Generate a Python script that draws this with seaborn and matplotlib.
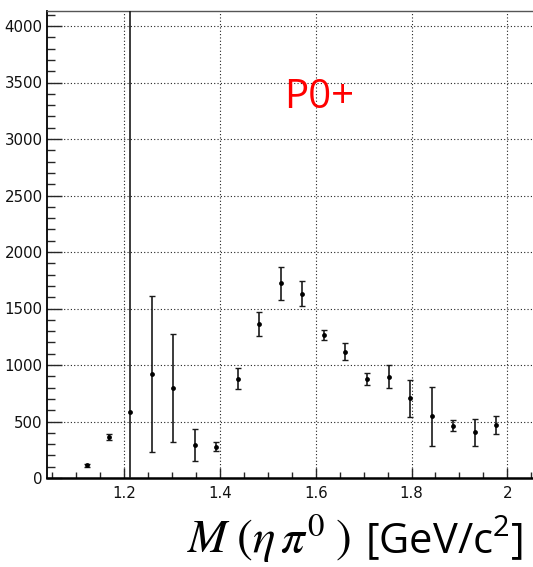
import matplotlib
matplotlib.use("Agg")
import matplotlib.pyplot as plt
import seaborn as sns
import numpy as np
import pandas as pd
from matplotlib.ticker import MultipleLocator

# ---- data ----
mass = [1.122, 1.167, 1.212, 1.257, 1.302, 1.347, 1.392, 1.437, 1.482, 1.527,
        1.572, 1.617, 1.662, 1.707, 1.752, 1.797, 1.842, 1.887, 1.932, 1.977]
counts = [112, 363, 587, 923, 796, 292, 277, 879, 1363, 1723,
          1631, 1265, 1118, 876, 897, 705, 546, 463, 404, 472]
errors = [12, 27, 5000, 692, 481, 140, 40, 93, 107, 146,
          109, 45, 78, 54, 100, 162, 262, 47, 122, 81]
label_text = "P0+"
x_ticks = [1.2, 1.4, 1.6, 1.8, 2.0]
x_tick_labels = ["1.2", "1.4", "1.6", "1.8", "2"]
y_ticks = [0, 500, 1000, 1500, 2000, 2500, 3000, 3500, 4000]

df = pd.DataFrame({"mass": mass, "counts": counts, "err": errors})

sns.set_style("ticks")
plt.rcParams["mathtext.fontset"] = "stix"

W, H = 533, 567
fig = plt.figure(figsize=(W / 100, H / 100), dpi=100)
left_px, right_px, top_px, bottom_px = 46.7, 533, 11, 478
ax = fig.add_axes([left_px / W, 1 - bottom_px / H,
                   (right_px - left_px) / W, (bottom_px - top_px) / H])

ax.errorbar(df["mass"], df["counts"], yerr=df["err"], fmt="none",
            ecolor="#1a1a1a", elinewidth=1.2, capsize=2, capthick=1.0, zorder=3)
sns.scatterplot(data=df, x="mass", y="counts", ax=ax, color="black",
                marker="o", s=12, edgecolor="black", linewidth=0, zorder=4,
                legend=False)

ax.set_xlim(1.2 - (124.3 - 46.7) / 478.75, 2.0 + (533 - 507.3) / 478.75)
ax.set_ylim(0, (bottom_px - top_px) / 56.5 * 500)

ax.set_xticks(x_ticks)
ax.set_xticklabels(x_tick_labels)
ax.set_yticks(y_ticks)
ax.set_yticklabels([str(v) for v in y_ticks])
ax.xaxis.set_minor_locator(MultipleLocator(0.05))
ax.yaxis.set_minor_locator(MultipleLocator(100))

tick_font = ["Liberation Sans Narrow", "DejaVu Sans"]
for lab in ax.get_xticklabels() + ax.get_yticklabels():
    lab.set_family(tick_font)
    lab.set_fontsize(10.8)
    lab.set_color("#111111")

ax.tick_params(axis="y", which="major", direction="in", length=11, width=1.0,
               pad=3, left=True, right=False)
ax.tick_params(axis="y", which="minor", direction="in", length=5.5, width=1.0,
               left=True, right=False)
ax.tick_params(axis="x", which="major", direction="in", length=7.5, width=1.0,
               pad=6, bottom=True, top=False)
ax.tick_params(axis="x", which="minor", direction="in", length=4, width=1.0,
               bottom=True, top=False)

ax.grid(True, which="major", color="#222222", linestyle=(0, (1, 2)), linewidth=0.8)
ax.set_axisbelow(True)

ax.spines["right"].set_visible(False)
ax.spines["top"].set_color("#555555")
ax.spines["top"].set_linewidth(1.0)
ax.spines["left"].set_linewidth(1.3)
ax.spines["bottom"].set_linewidth(1.8)
ax.spines["left"].set_color("black")
ax.spines["bottom"].set_color("black")

ax.set_xlabel("")
ax.set_ylabel("")

ax.text(1.6067, 3365, label_text, color="red", fontsize=29,
        family=["Open Sans", "DejaVu Sans"], ha="center", va="center")

# x-axis title: sans part, then math part placed just to its left
base_y = 1 - 553 / H
unit_txt = fig.text(523 / W, base_y, r"[GeV/c$\mathregular{^2}$]", fontsize=30,
                    family=["Open Sans", "DejaVu Sans"], ha="right",
                    va="baseline", color="black")
renderer = fig.canvas.get_renderer()
bb = unit_txt.get_window_extent(renderer=renderer)
math_right_px = bb.x0 - 14
fig.text(math_right_px / W, base_y, r"$M\;(\eta\,\pi^{0}\;)$", fontsize=34,
         ha="right", va="baseline", color="black")

fig.savefig("out.png", dpi=100)
